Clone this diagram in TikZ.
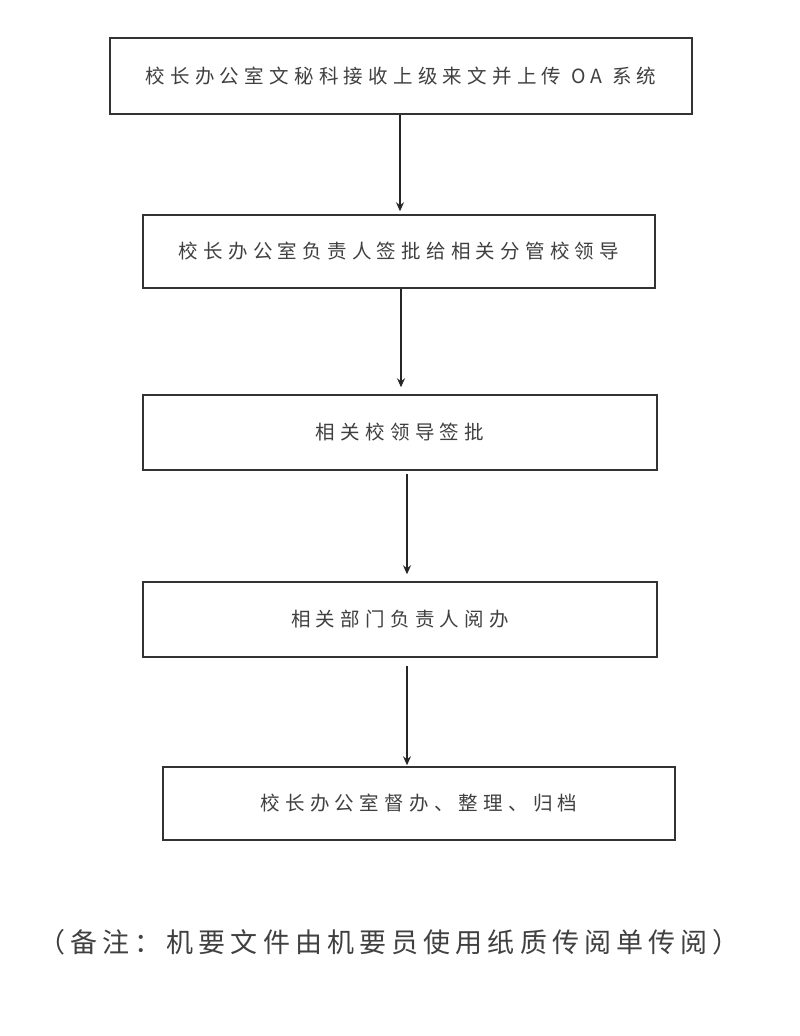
\documentclass[tikz,border=0pt]{standalone}
\usepackage{fontspec}
\usetikzlibrary{arrows.meta}
\newfontfamily\cjkbox[LetterSpace=27]{Noto Sans CJK SC}
\newfontfamily\cjknote[LetterSpace=19]{Noto Sans CJK SC}
\begin{document}
\begin{tikzpicture}[x=1pt,y=-1pt,
  flowbox/.style={draw=black!80, line width=1.5pt, rectangle, inner sep=0pt,
    text=black!75, font=\cjkbox\fontsize{19.5}{22}\selectfont},
  arr/.style={draw=black!85, line width=1.4pt, -{Stealth[length=9pt,width=8pt,inset=3pt]}}]
\useasboundingbox[fill=white] (0,0) rectangle (800,1036);

\node[flowbox, minimum width=582pt, minimum height=76pt] (b1) at (401,76)
  {校长办公室文秘科接收上级来文并上传 OA 系统\hspace{-5pt}};
\node[flowbox, minimum width=512pt, minimum height=73pt] (b2) at (399,251.5)
  {校长办公室负责人签批给相关分管校领导\hspace{-5pt}};
\node[flowbox, minimum width=514pt, minimum height=75pt] (b3) at (400,432.5)
  {相关校领导签批\hspace{-5pt}};
\node[flowbox, minimum width=514pt, minimum height=75pt] (b4) at (400,619.5)
  {相关部门负责人阅办\hspace{-5pt}};
\node[flowbox, minimum width=512pt, minimum height=73pt] (b5) at (419,803.5)
  {校长办公室督办、整理、归档\hspace{-5pt}};

\node[text=black!75, font=\cjknote\fontsize{27}{30}\selectfont] (note) at (389,942)
  {（备注：机要文件由机要员使用纸质传阅单传阅）\hspace{-5pt}};

\coordinate (x1) at (400,0);
\coordinate (x2) at (401,0);
\coordinate (x3) at (407,0);
\coordinate (x4) at (407,0);

\draw[arr, shorten >=3pt] (b1.south -| x1) -- (b2.north -| x1);
\draw[arr, shorten >=7pt] (b2.south -| x2) -- (b3.north -| x2);
\draw[arr, shorten <=3pt, shorten >=7pt] (b3.south -| x3) -- (b4.north -| x3);
\draw[arr, shorten <=8pt, shorten >=1pt] (b4.south -| x4) -- (b5.north -| x4);
\end{tikzpicture}
\end{document}
